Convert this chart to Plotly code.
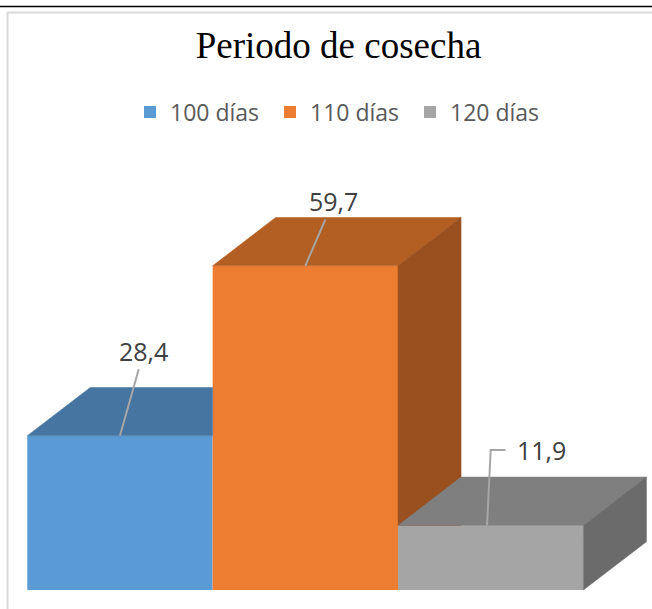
import plotly.graph_objects as go

# ---- data ----
series = ["100 días", "110 días", "120 días"]
values = [28.4, 59.7, 11.9]
positions = [0, 1, 2]

front_colors = ["#5B9BD5", "#ED7D31", "#A5A5A5"]
top_colors = ["#4575A0", "#B35E22", "#7F7F7F"]
side_colors = ["#3F6A92", "#9A4F1E", "#6B6B6B"]

# 3D depth offsets (in axis units)
DX = 0.34
DY = 8.9
HALF = 0.5

fig = go.Figure()

# front faces as bars
for name, pos, v, c in zip(series, positions, values, front_colors):
    fig.add_trace(go.Bar(x=[pos], y=[v], width=2 * HALF, name=name,
                         marker=dict(color=c, line=dict(width=0)),
                         hoverinfo="skip"))


def poly(xs, ys, color):
    fig.add_trace(go.Scatter(x=xs + [xs[0]], y=ys + [ys[0]], mode="lines",
                             fill="toself", fillcolor=color,
                             line=dict(color=color, width=0.5),
                             showlegend=False, hoverinfo="skip"))


# blue top face (clipped by the orange front face)
p, v = positions[0], values[0]
poly([p - HALF, p + HALF, p + HALF, p - HALF + DX],
     [v, v, v + DY, v + DY], top_colors[0])

# orange top face
p, v = positions[1], values[1]
poly([p - HALF, p + HALF, p + HALF + DX, p - HALF + DX],
     [v, v, v + DY, v + DY], top_colors[1])
# orange side face (lower part hidden behind gray front face)
vg = values[2]
poly([p + HALF, p + HALF, p + HALF + DX, p + HALF + DX],
     [vg, v, v + DY, vg], side_colors[1])

# gray top face
p, v = positions[2], values[2]
poly([p - HALF, p + HALF, p + HALF + DX, p - HALF + DX],
     [v, v, v + DY, v + DY], top_colors[2])
# gray side face
poly([p + HALF, p + HALF, p + HALF + DX, p + HALF + DX],
     [0, v, v + DY, DY], side_colors[2])

# leader for the gray label (elbow)
lead = 13.9
fig.add_trace(go.Scatter(x=[p - 0.02, p, p + 0.08],
                         y=[v, v + lead, v + lead], mode="lines",
                         line=dict(color="#A6A6A6", width=2),
                         showlegend=False, hoverinfo="skip"))


def fmt(x):
    return f"{x:.1f}".replace(".", ",")


label_font = dict(family="Open Sans", size=25, color="#404040")
# blue and orange labels with leaders
fig.add_annotation(x=positions[0], y=values[0], text=fmt(values[0]),
                   showarrow=True, arrowhead=0, arrowwidth=2, arrowcolor="#A6A6A6",
                   ax=24, ay=-85, font=label_font)
fig.add_annotation(x=positions[1], y=values[1], text=fmt(values[1]),
                   showarrow=True, arrowhead=0, arrowwidth=2, arrowcolor="#A6A6A6",
                   ax=28, ay=-65, font=label_font)
fig.add_annotation(x=positions[2] + 0.1, y=values[2] + lead, text=fmt(values[2]),
                   showarrow=False, xanchor="left", yanchor="middle",
                   xshift=6, font=label_font)

# frame lines
L, T, R, B = 18, 140, 0, 9
W, H = 652 - L - R, 609 - T - B


def px_x(xp):
    return (xp - L) / W


def px_y(yp):
    return (609 - B - yp) / H


fig.add_shape(type="line", xref="paper", yref="paper",
              x0=px_x(0), x1=px_x(652), y0=px_y(6.5), y1=px_y(6.5),
              line=dict(color="#000000", width=1.5))
fig.add_shape(type="line", xref="paper", yref="paper",
              x0=px_x(7), x1=px_x(652), y0=px_y(12.5), y1=px_y(12.5),
              line=dict(color="#D9D9D9", width=2))
fig.add_shape(type="line", xref="paper", yref="paper",
              x0=px_x(7.5), x1=px_x(7.5), y0=px_y(12.5), y1=px_y(609),
              line=dict(color="#D9D9D9", width=2))

fig.update_layout(
    width=652, height=609,
    margin=dict(l=L, r=R, t=T, b=B),
    paper_bgcolor="white", plot_bgcolor="white",
    barmode="overlay",
    title=dict(text="Periodo de cosecha", x=338.5 / 652, xref="container",
               xanchor="center", y=1 - 45 / 609, yref="container", yanchor="middle",
               font=dict(family="Liberation Serif", size=37, color="#000000")),
    legend=dict(orientation="h", x=px_x(130), xanchor="left",
                y=px_y(112), yanchor="middle",
                font=dict(family="Open Sans", size=23, color="#595959"),
                entrywidth=95, entrywidthmode="pixels",
                bgcolor="rgba(0,0,0,0)", borderwidth=0),
    xaxis=dict(range=[-0.55, 2.87], visible=False, fixedrange=True),
    yaxis=dict(range=[-10 / 5.43, (590 - 140) / 5.43], visible=False, fixedrange=True),
    showlegend=True,
)

fig.write_html("out.html")
